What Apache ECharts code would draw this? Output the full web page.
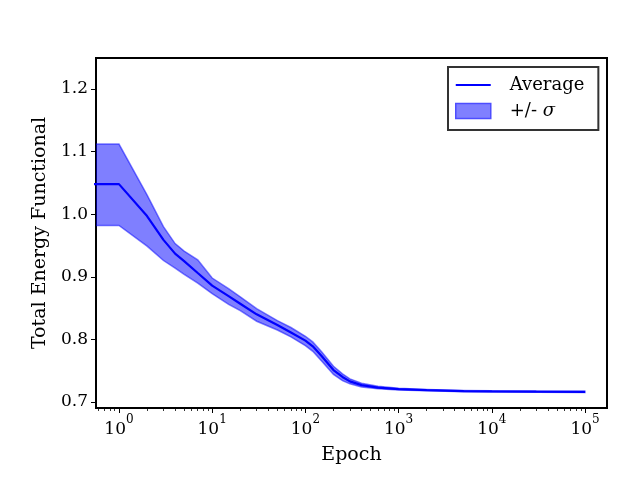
<!DOCTYPE html>
<html>
<head>
<meta charset="utf-8">
<script src="https://cdn.jsdelivr.net/npm/echarts@6/dist/echarts.min.js"></script>
<style>
  html, body { margin: 0; padding: 0; background: #fff; }
  #chart { width: 640px; height: 480px; }
</style>
</head>
<body>
<div id="chart"></div>
<script>
// epochs (first point sits left of the axis minimum, clipped like the original)
const epochs = [0.5, 1, 2, 3, 4, 5, 7, 10, 15, 20, 30, 50, 70, 100, 120, 150, 200, 250, 300, 400, 600, 1000, 2000, 5000, 10000, 30000, 100000];
const average = [1.048, 1.048, 0.997, 0.959, 0.937, 0.925, 0.906, 0.886, 0.869, 0.857, 0.840, 0.823, 0.811, 0.798, 0.789, 0.773, 0.751, 0.740, 0.733, 0.727, 0.723, 0.7205, 0.719, 0.7175, 0.717, 0.7165, 0.716];
const upper = [1.112, 1.112, 1.031, 0.980, 0.953, 0.941, 0.927, 0.898, 0.881, 0.868, 0.849, 0.830, 0.819, 0.805, 0.796, 0.780, 0.757, 0.745, 0.737, 0.730, 0.725, 0.722, 0.720, 0.7185, 0.718, 0.7175, 0.717];
const lower = [0.982, 0.982, 0.949, 0.926, 0.914, 0.904, 0.890, 0.873, 0.856, 0.846, 0.829, 0.815, 0.804, 0.790, 0.781, 0.765, 0.744, 0.734, 0.729, 0.724, 0.721, 0.719, 0.718, 0.7165, 0.716, 0.7155, 0.715];

const xTicks = [1, 10, 100, 1000, 10000, 100000];
const yTicks = [0.7, 0.8, 0.9, 1.0, 1.1, 1.2];

// minor ticks at 2..9 of every decade
const xMinor = [];
[0.1, 1, 10, 100, 1000, 10000, 100000].forEach(d => {
    for (let k = 2; k <= 9; k++) xMinor.push(d * k);
});

const FONT = 'DejaVu Serif';

const chart = echarts.init(document.getElementById('chart'));

// filled band between lower and upper, drawn once as a polygon
const renderBand = (params, api) => {
    const pts = [];
    for (let i = 0; i < epochs.length; i++) pts.push(api.coord([epochs[i], upper[i]]));
    for (let i = epochs.length - 1; i >= 0; i--) pts.push(api.coord([epochs[i], lower[i]]));
    return {
        type: 'polygon',
        shape: { points: pts },
        style: { fill: 'rgba(0,0,255,0.5)', stroke: 'rgba(0,0,255,0.5)', lineWidth: 1.5 }
    };
};

const option = {
    animation: false,
    grid: {
        left: 96, right: 33, top: 58, bottom: 72,
        show: true, borderColor: '#000', borderWidth: 2
    },
    legend: {
        orient: 'vertical',
        left: 448, top: 67,
        padding: [9, 14, 10, 7],
        backgroundColor: '#fff',
        borderColor: '#333',
        borderWidth: 2,
        borderRadius: 0,
        itemWidth: 35,
        itemHeight: 15,
        itemGap: 8,
        textStyle: {
            fontFamily: FONT, fontSize: 18, color: '#000', padding: [0, 0, 0, 14],
            rich: { i: { fontFamily: FONT, fontStyle: 'italic', fontSize: 18, color: '#000' } }
        },
        formatter: name => name === 'sigma' ? '+/- {i|σ}' : name,
        data: [
            { name: 'Average', icon: 'path://M0,0L35,0L35,2.2L0,2.2Z', itemStyle: { color: '#0000ff' } },
            { name: 'sigma', icon: 'rect', itemStyle: { color: '#8080ff', borderColor: '#4d4dff', borderWidth: 1.5 } }
        ]
    },
    xAxis: [{
        type: 'log',
        min: 0.567, max: 172000,
        name: 'Epoch',
        nameLocation: 'middle',
        nameGap: 38,
        nameTextStyle: { fontFamily: FONT, fontSize: 19, color: '#000' },
        axisLine: { show: true, lineStyle: { color: '#000', width: 2 } },
        axisTick: { show: true, inside: false, length: 5, lineStyle: { color: '#000', width: 1 }, customValues: xTicks },
        axisLabel: {
            fontFamily: FONT, fontSize: 17, color: '#000', margin: 6,
            customValues: xTicks,
            formatter: v => '{b|10}{s|' + Math.round(Math.log10(v)) + '}',
            rich: {
                b: { fontFamily: FONT, fontSize: 17, color: '#000', lineHeight: 24, verticalAlign: 'bottom' },
                s: { fontFamily: FONT, fontSize: 12, color: '#000', lineHeight: 24, verticalAlign: 'top' }
            }
        },
        splitLine: { show: false }
    }, {
        type: 'log',
        min: 0.567, max: 172000,
        position: 'bottom',
        axisLine: { show: false },
        axisTick: { show: true, length: 3, lineStyle: { color: '#000', width: 0.8 }, customValues: xMinor },
        axisLabel: { show: false },
        splitLine: { show: false }
    }],
    yAxis: {
        type: 'value',
        min: 0.6904, max: 1.2495,
        name: 'Total Energy Functional',
        nameLocation: 'middle',
        nameGap: 46,
        nameTextStyle: { fontFamily: FONT, fontSize: 19, color: '#000' },
        axisLine: { show: true, lineStyle: { color: '#000', width: 2 } },
        axisTick: { show: true, length: 5, lineStyle: { color: '#000', width: 1 }, customValues: yTicks },
        axisLabel: {
            fontFamily: FONT, fontSize: 17, color: '#000', margin: 8,
            customValues: yTicks,
            formatter: v => v.toFixed(1)
        },
        splitLine: { show: false }
    },
    series: [
        {
            name: 'sigma',
            type: 'custom',
            renderItem: renderBand,
            data: [[1, 1]],
            encode: { x: 0, y: 1 },
            clip: true,
            itemStyle: { color: '#8080ff' },
            z: 2
        },
        {
            name: 'Average',
            type: 'line',
            data: epochs.map((e, i) => [e, average[i]]),
            symbol: 'none',
            clip: true,
            lineStyle: { color: '#0000ff', width: 2.2 },
            itemStyle: { color: '#0000ff' },
            z: 3
        }
    ]
};

chart.setOption(option);
</script>
</body>
</html>
